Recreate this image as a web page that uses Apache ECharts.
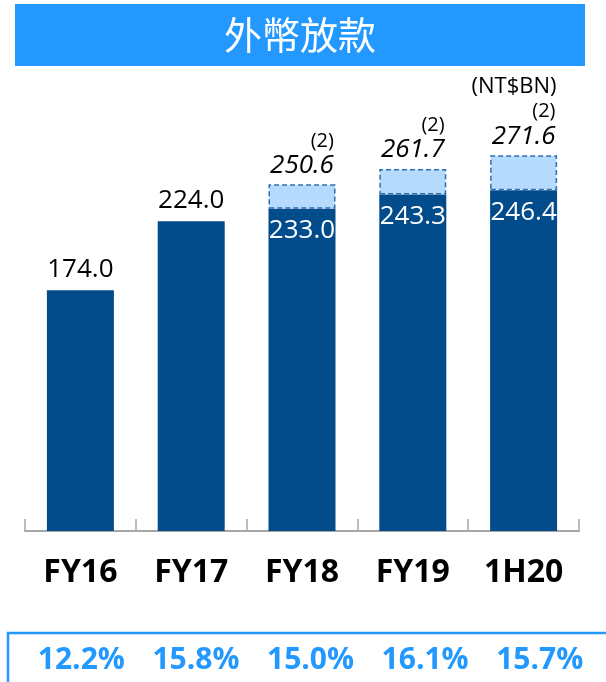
<!DOCTYPE html>
<html><head><meta charset="utf-8">
<script src="https://cdn.jsdelivr.net/npm/echarts@6/dist/echarts.min.js"></script>
<style>html,body{margin:0;padding:0;background:#fff}#c{width:606px;height:682px}</style>
</head><body><div id="c"></div>
<script>
const categories = ['FY16', 'FY17', 'FY18', 'FY19', '1H20'];
const baseLoans = [174.0, 224.0, 233.0, 243.3, 246.4];
const adjustedTotals = [null, null, 250.6, 261.7, 271.6];
const ratioLabels = ['12.2%', '15.8%', '15.0%', '16.1%', '15.7%'];
const titleText = '外幣放款';
const unitText = '(NT$BN)';
const noteMark = '(2)';

const FONT = '"Open Sans", "Liberation Sans", sans-serif';
const DARK = '#034C8C';
const LIGHT = '#B4DBFD';
const BRIGHT = '#2398FF';

const baseData = baseLoans.map((v, i) => {
  if (adjustedTotals[i] != null) {
    return { value: v, label: { position: 'insideTop', distance: 9, color: '#fff' } };
  }
  return { value: v };
});
const extraData = adjustedTotals.map((t, i) => t == null ? '-' : +(t - baseLoans[i]).toFixed(1));

const chart = echarts.init(document.getElementById('c'), null, { renderer: 'canvas' });
chart.setOption({
  animation: false,
  backgroundColor: '#fff',
  grid: [
    { left: 25, right: 27, top: 116, bottom: 151 },
    { left: 24, right: 9, top: 600, height: 30 }
  ],
  xAxis: [
    {
      type: 'category', gridIndex: 0, data: categories,
      axisLine: { lineStyle: { color: '#A6A6A6', width: 2 } },
      axisTick: { show: true, inside: true, length: 12, lineStyle: { color: '#A6A6A6', width: 1.5 } },
      axisLabel: { interval: 0, margin: 26, color: '#000', fontFamily: FONT, fontWeight: 'bold', fontSize: 32 }
    },
    {
      type: 'category', gridIndex: 1, data: ratioLabels,
      axisLine: { show: false }, axisTick: { show: false },
      axisLabel: { interval: 0, margin: 15, color: BRIGHT, fontFamily: FONT, fontWeight: 'bold', fontSize: 30 }
    }
  ],
  yAxis: [
    { type: 'value', gridIndex: 0, min: 0, max: 300, show: false },
    { type: 'value', gridIndex: 1, show: false }
  ],
  series: [
    {
      type: 'bar', stack: 'loan', barWidth: 67, data: baseData,
      itemStyle: { color: DARK },
      label: { show: true, position: 'top', distance: 8, color: '#000', fontFamily: FONT, fontSize: 26,
        formatter: p => p.value.toFixed(1) }
    },
    {
      type: 'bar', stack: 'loan', barWidth: 67, data: extraData,
      itemStyle: { color: LIGHT, borderColor: '#2F6DAE', borderWidth: 1.5, borderType: [5, 3] },
      label: {
        show: true, position: 'top', distance: 5, fontFamily: FONT, fontSize: 20,
        formatter: p => '{s|' + noteMark + '}\n{v|' + adjustedTotals[p.dataIndex].toFixed(1) + '}',
        rich: {
          s: { fontFamily: FONT, fontSize: 20, color: '#000', align: 'right', lineHeight: 21 },
          v: { fontFamily: FONT, fontSize: 26, fontStyle: 'italic', color: '#000', align: 'center', lineHeight: 28 }
        }
      }
    }
  ],
  graphic: [
    { type: 'rect', shape: { x: 15, y: 4, width: 570, height: 62 }, style: { fill: BRIGHT }, silent: true },
    { type: 'text', x: 300, y: 35, style: { text: titleText, fill: '#fff', font: '38px "Noto Sans CJK TC", sans-serif', textAlign: 'center', textVerticalAlign: 'middle' } },
    { type: 'text', x: 514, y: 87, style: { text: unitText, fill: '#000', font: '22px ' + FONT, textAlign: 'center', textVerticalAlign: 'middle' } },
    { type: 'rect', shape: { x: 8, y: 633, width: 700, height: 100 }, style: { fill: 'none', stroke: BRIGHT, lineWidth: 2.5 }, silent: true }
  ]
});
</script></body></html>
